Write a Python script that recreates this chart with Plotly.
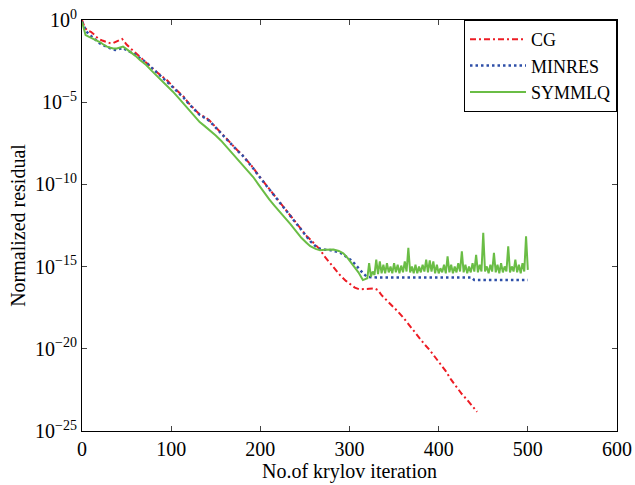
import plotly.graph_objects as go

# ---------------- data (iteration, log10 of normalized residual) ----------------
cg_iter = [0, 3, 6, 10, 14, 18, 22, 27, 32, 35, 38, 42, 45, 47, 50, 55, 60, 66, 72, 78,
           84, 90, 96, 102, 108, 114, 120, 126, 132, 138, 143, 150, 156, 162, 168, 174,
           180, 186, 192, 198, 204, 210, 216, 222, 228, 234, 240, 246, 252, 256, 262,
           267, 272, 278, 284, 290, 296, 301, 306, 311, 316, 322, 328, 332, 336, 342,
           348, 354, 360, 366, 372, 378, 384, 390, 396, 402, 408, 414, 420, 426, 432,
           438, 443]
cg_log = [0.0, -0.46, -0.64, -0.72, -0.9, -1.13, -1.23, -1.31, -1.42, -1.4, -1.31, -1.23,
          -1.15, -1.28, -1.49, -1.75, -2.0, -2.31, -2.57, -2.88, -3.18, -3.44, -3.7,
          -4.06, -4.36, -4.67, -5.08, -5.44, -5.75, -5.91, -6.11, -6.52, -6.88, -7.24,
          -7.6, -7.91, -8.22, -8.58, -8.99, -9.45, -9.86, -10.32, -10.73, -11.09, -11.5,
          -11.91, -12.32, -12.79, -13.15, -13.35, -13.66, -13.97, -14.38, -14.79, -15.2,
          -15.56, -15.87, -16.07, -16.28, -16.38, -16.38, -16.35, -16.33, -16.43, -16.74,
          -17.05, -17.36, -17.72, -18.08, -18.49, -18.95, -19.36, -19.72, -20.08, -20.49,
          -20.9, -21.36, -21.88, -22.34, -22.75, -23.11, -23.47, -23.83]

minres_iter = [0, 3, 5, 9, 13, 17, 20, 25, 31, 35, 39, 42, 45, 48, 54, 60, 66, 72, 78,
               84, 90, 96, 102, 108, 114, 120, 126, 132, 138, 143, 150, 156, 162, 168,
               174, 180, 186, 192, 198, 204, 210, 216, 222, 228, 234, 240, 246, 252, 256,
               262, 267, 272, 278, 284, 290, 296, 301, 306, 311, 316, 320, 330, 360, 400,
               437, 440, 470, 500]
minres_log = [-0.1, -0.51, -0.71, -0.92, -1.12, -1.28, -1.42, -1.56, -1.73, -1.8, -1.83,
              -1.77, -1.7, -1.77, -1.93, -2.11, -2.36, -2.57, -2.9, -3.2, -3.49, -3.75,
              -4.09, -4.42, -4.72, -5.11, -5.46, -5.77, -5.96, -6.14, -6.55, -6.9, -7.27,
              -7.62, -7.93, -8.24, -8.61, -9.02, -9.47, -9.88, -10.34, -10.76, -11.11,
              -11.52, -11.93, -12.34, -12.82, -13.2, -13.45, -13.76, -13.92, -13.97, -13.99,
              -14.07, -14.17, -14.38, -14.58, -14.84, -15.18, -15.46, -15.63, -15.66,
              -15.66, -15.66, -15.66, -15.82, -15.82, -15.82]

symmlq_iter = [0, 2, 4, 8, 12, 16, 20, 24, 28, 32, 35, 39, 43, 46, 50, 54, 60, 65, 72,
               78, 84, 90, 96, 102, 108, 114, 120, 126, 132, 138, 144, 150, 156, 162, 168,
               174, 180, 186, 192, 198, 204, 210, 216, 222, 228, 234, 240, 246, 252, 256,
               262, 267, 272, 276, 282, 288, 293, 298, 304, 310, 315, 318,
               320, 322, 324, 326, 328, 330, 332, 334, 336, 338, 340, 342, 344, 346, 348,
               350, 352, 354, 356, 358, 360, 362, 364, 366, 368, 370, 372, 374, 376, 378,
               380, 382, 384, 386, 388, 390, 392, 394, 396, 398, 400, 402, 404, 406, 408,
               410, 412, 414, 416, 418, 420, 422, 424, 426, 428, 430, 432, 434, 436, 438,
               440, 442, 444, 446, 448, 450, 452, 454, 456, 458, 460, 462, 464, 466, 468,
               470, 472, 474, 476, 478, 480, 482, 484, 486, 488, 490, 492, 494, 496, 498,
               500]
symmlq_log = [-0.1, -0.51, -0.92, -1.03, -1.13, -1.21, -1.34, -1.49, -1.62, -1.69, -1.73,
              -1.73, -1.69, -1.62, -1.77, -1.93, -2.18, -2.43, -2.74, -3.08, -3.39, -3.7,
              -4.01, -4.36, -4.72, -5.08, -5.44, -5.85, -6.21, -6.47, -6.73, -7.03, -7.34,
              -7.7, -8.06, -8.42, -8.78, -9.14, -9.55, -10.01, -10.48, -10.91, -11.3,
              -11.66, -12.04, -12.43, -12.84, -13.25, -13.56, -13.76, -13.92, -14.0, -13.97,
              -13.95, -13.96, -14.05, -14.19, -14.48, -14.89, -15.35, -15.82, -15.76,
              -15.71, -14.79, -15.61, -15.3, -15.51, -14.58, -15.46, -14.69, -15.41, -14.89,
              -15.41, -14.79, -15.35, -14.99, -15.41, -14.79, -15.35, -14.89, -15.41,
              -14.94, -15.35, -14.69, -15.3, -13.86, -15.35, -14.99, -15.41, -14.89, -15.41,
              -14.99, -15.35, -14.89, -15.3, -14.58, -15.35, -14.63, -15.3, -14.69, -15.41,
              -14.89, -15.41, -15.1, -15.35, -14.89, -15.41, -14.38, -15.35, -14.89, -15.41,
              -14.99, -15.35, -14.79, -15.3, -14.07, -15.35, -14.89, -15.41, -14.99, -15.35,
              -14.79, -15.3, -14.28, -15.35, -14.89, -15.3, -12.94, -15.3, -14.99, -15.41,
              -14.89, -15.3, -14.17, -15.35, -14.89, -15.41, -14.79, -15.35, -14.99, -15.3,
              -13.76, -15.35, -14.99, -15.3, -14.58, -15.35, -14.89, -15.41, -14.79, -15.3,
              -13.15, -15.2]

ytick_exp = [0, -5, -10, -15, -20, -25]
xtick_vals = [0, 100, 200, 300, 400, 500, 600]

FONT = "Liberation Serif"

fig = go.Figure()
fig.add_trace(go.Scatter(x=cg_iter, y=[10 ** v for v in cg_log], mode="lines", name="CG",
                         line=dict(color="#ED1C24", width=2, dash="6px,3px,2px,3px")))
fig.add_trace(go.Scatter(x=minres_iter, y=[10 ** v for v in minres_log], mode="lines",
                         name="MINRES",
                         line=dict(color="#2E4FA8", width=2.5, dash="2.5px,3px")))
fig.add_trace(go.Scatter(x=symmlq_iter, y=[10 ** v for v in symmlq_log], mode="lines",
                         name="SYMMLQ", line=dict(color="#6ABD45", width=2)))

fig.update_layout(
    width=635, height=485,
    margin=dict(l=82, r=18, t=20, b=54),
    paper_bgcolor="white", plot_bgcolor="white",
    font=dict(family=FONT, size=20, color="black"),
    showlegend=True,
    legend=dict(x=1, xanchor="right", y=1, yanchor="top", bgcolor="white",
                bordercolor="black", borderwidth=1, font=dict(family=FONT, size=18),
                tracegroupgap=0, itemwidth=56),
)
fig.update_xaxes(range=[0, 600], tickvals=xtick_vals, ticks="inside", ticklen=5,
                 mirror="ticks", showline=True, linecolor="black", linewidth=1,
                 showgrid=False, zeroline=False, automargin=False,
                 tickfont=dict(family=FONT, size=20),
                 title=dict(text="No.of krylov iteration", standoff=2,
                            font=dict(family=FONT, size=20)))
fig.update_yaxes(type="log", range=[-25, 0], tickvals=[10 ** e for e in ytick_exp],
                 ticktext=["10<sup>%s</sup>" % (str(e).replace("-", "\u2212")) for e in ytick_exp],
                 ticks="inside", ticklen=5, mirror="ticks", showline=True,
                 linecolor="black", linewidth=1, showgrid=False, zeroline=False,
                 automargin=False, tickfont=dict(family=FONT, size=20),
                 title=dict(text="Normalized residual", standoff=4,
                            font=dict(family=FONT, size=20)))

fig.write_html("out.html", config={"displayModeBar": False},
               post_script="document.body.style.margin='0';document.body.style.overflow='hidden';")
